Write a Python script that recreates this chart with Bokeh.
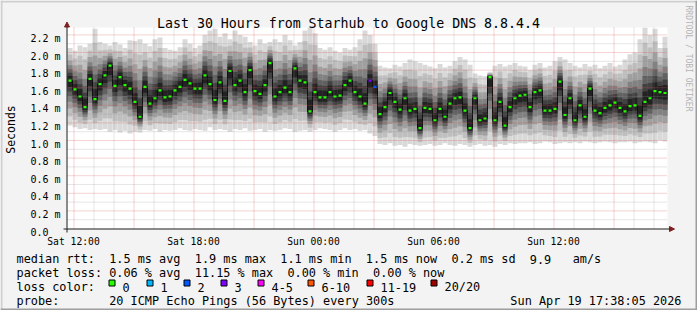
import math
from bokeh.plotting import figure
from bokeh.models import Range1d, Arrow, NormalHead
from bokeh.core.properties import value
from bokeh.embed import file_html
from bokeh.resources import INLINE

# ---------------- data ----------------
start_hour = 11.7          # Sat 11:42, hours since Sat 00:00
step_hours = 0.25          # one consolidated sample per 15 minutes
span_hours = 30

median_ms = [
    1.68, 1.58, 1.50, 1.38, 1.70, 1.47, 1.64, 1.74, 1.85, 1.62,
    1.72, 1.63, 1.59, 1.44, 1.27, 1.61, 1.42, 1.48, 1.57, 1.49,
    1.50, 1.57, 1.61, 1.69, 1.65, 1.59, 1.59, 1.74, 1.64, 1.46,
    1.66, 1.45, 1.79, 1.63, 1.68, 1.55, 1.80, 1.56, 1.53, 1.63,
    1.88, 1.50, 1.55, 1.60, 1.55, 1.82, 1.68, 1.66, 1.33, 1.55,
    1.49, 1.49, 1.55, 1.50, 1.51, 1.63, 1.68, 1.55, 1.50, 1.42,
    1.68, 1.61, 1.30, 1.38, 1.54, 1.44, 1.35, 1.48, 1.34, 1.36,
    1.14, 1.37, 1.36, 1.23, 1.36, 1.27, 1.42, 1.48, 1.49, 1.34,
    1.14, 1.48, 1.23, 1.25, 1.72, 1.23, 1.44, 1.17, 1.38, 1.48,
    1.51, 1.52, 1.38, 1.55, 1.57, 1.34, 1.34, 1.36, 1.67, 1.29,
    1.48, 1.23, 1.40, 1.27, 1.59, 1.34, 1.31, 1.37, 1.40, 1.43,
    1.37, 1.33, 1.39, 1.40, 1.28, 1.44, 1.48, 1.56, 1.55, 1.54,
]

smoke_top_ms = [
    2.05, 2.02, 2.08, 2.06, 2.10, 2.27, 2.12, 2.10, 2.08, 2.12,
    2.09, 2.05, 2.14, 2.13, 2.15, 2.10, 2.07, 2.15, 2.17, 2.05,
    2.03, 2.02, 2.06, 2.15, 2.10, 2.05, 2.08, 2.20, 2.25, 2.27,
    2.18, 2.22, 2.15, 2.25, 2.20, 2.18, 2.12, 2.08, 2.15, 2.10,
    2.12, 2.15, 2.12, 2.20, 2.14, 2.08, 2.12, 2.25, 2.28, 2.22,
    2.05, 2.03, 2.06, 2.02, 2.00, 2.05, 2.03, 2.06, 2.15, 2.25,
    2.20, 2.10, 1.85, 1.83, 1.82, 1.86, 1.84, 1.88, 1.92, 1.90,
    1.88, 1.86, 1.84, 1.82, 1.87, 1.83, 1.85, 1.90, 1.95, 1.92,
    1.86, 1.76, 1.74, 1.73, 1.78, 1.85, 1.87, 1.84, 1.86, 1.88,
    1.85, 1.84, 1.80, 1.86, 1.88, 1.83, 1.85, 1.90, 1.95, 1.92,
    1.88, 1.85, 1.83, 1.87, 1.84, 1.86, 1.82, 1.85, 1.88, 1.84,
    1.86, 1.92, 1.98, 2.00, 2.15, 2.28, 2.20, 2.27, 2.05, 2.18,
]

smoke_bottom_ms = [
    1.17, 1.15, 1.13, 1.14, 1.12, 1.13, 1.12, 1.13, 1.10, 1.12,
    1.09, 1.11, 1.08, 1.10, 1.09, 1.12, 1.11, 1.13, 1.10, 1.12,
    1.11, 1.12, 1.14, 1.12, 1.11, 1.13, 1.12, 1.11, 1.15, 1.12,
    1.13, 1.12, 1.10, 1.13, 1.12, 1.14, 1.11, 1.12, 1.13, 1.10,
    1.12, 1.11, 1.12, 1.14, 1.13, 1.10, 1.11, 1.12, 1.10, 1.12,
    1.14, 1.13, 1.12, 1.10, 1.12, 1.14, 1.12, 1.13, 1.11, 1.12,
    1.08, 1.05, 0.96, 0.95, 0.97, 0.94, 0.95, 0.93, 0.96, 0.95,
    0.94, 0.95, 0.96, 0.94, 0.95, 0.97, 0.95, 0.94, 0.96, 0.95,
    0.93, 0.95, 0.96, 0.94, 0.95, 0.93, 0.96, 0.95, 0.97, 0.96,
    0.97, 0.97, 0.98, 0.96, 0.97, 0.99, 0.98, 0.96, 0.97, 0.98,
    0.97, 0.98, 0.97, 0.99, 0.98, 0.97, 0.98, 0.99, 0.98, 0.97,
    0.98, 0.98, 0.99, 0.97, 0.98, 0.99, 0.98, 0.97, 1.00, 0.99,
]

loss_events = {60: 3, 61: 2}   # sample index -> lost pings (of 20)

x_tick_hours = [12, 18, 24, 30, 36]
x_tick_labels = ["Sat 12:00", "Sat 18:00", "Sun 00:00", "Sun 06:00", "Sun 12:00"]
y_ticks_ms = [0.0, 0.2, 0.4, 0.6, 0.8, 1.0, 1.2, 1.4, 1.6, 1.8, 2.0, 2.2]
y_tick_labels = ["0.0", "0.2 m", "0.4 m", "0.6 m", "0.8 m", "1.0 m", "1.2 m",
                 "1.4 m", "1.6 m", "1.8 m", "2.0 m", "2.2 m"]

loss_labels = ["0", "1", "2", "3", "4-5", "6-10", "11-19", "20/20"]
loss_colors = ["#26ff00", "#00b8ff", "#0059ff", "#7e00ff",
               "#ff00ff", "#ff5500", "#ff0000", "#a10000"]

title_text = "Last 30 Hours from Starhub to Google DNS 8.8.4.4"
rtt_stats = ["1.5 ms avg", "1.9 ms max", "1.1 ms min", "1.5 ms now", "0.2 ms sd"]
am_value, am_unit = "9.9", "am/s"
loss_stats = ["0.06 % avg", "11.15 % max", "0.00 % min", "0.00 % now"]
probe_text = "20 ICMP Echo Pings (56 Bytes) every 300s"
timestamp_text = "Sun Apr 19 17:38:05 2026"
watermark = "RRDTOOL / TOBI OETIKER"

# ---------------- layout constants (pixels) ----------------
W, H = 697, 310
FL, FR, FT, FB = 67, 667, 27, 228        # plot area edges on the canvas
PX_PER_H = (FR - FL) / span_hours        # 20 px per hour
PX_PER_MS = 88.0
FONT = "DejaVu Sans Mono"
BACK = "#f3f3f3"

def hx(X):   # canvas pixel x -> hours
    return start_hour + (X - FL) / PX_PER_H

def vy(Y):   # canvas pixel y -> ms
    return (FB - Y) / PX_PER_MS

def loss_bin(n):
    if n <= 3:
        return n
    if n <= 5:
        return 4
    if n <= 10:
        return 5
    if n <= 19:
        return 6
    return 7

n = len(median_ms)
left = [start_hour + step_hours * i for i in range(n)]
right = [l + step_hours for l in left]
centers = [l + step_hours / 2 for l in left]
end_hour = start_hour + span_hours
top_ms = vy(FT)

p = figure(width=W, height=H, output_backend="svg", toolbar_location=None,
           x_range=Range1d(hx(0), hx(W)), y_range=Range1d(vy(H), vy(0)),
           x_axis_location=None, y_axis_location=None, min_border=0,
           background_fill_color=BACK, border_fill_color=BACK,
           outline_line_color=None)
p.xgrid.visible = False
p.ygrid.visible = False

# canvas (plot area)
p.quad(left=[start_hour], right=[end_hour], bottom=[0], top=[top_ms],
       fill_color="#ffffff", line_color=None)

# ---------------- smoke ----------------
fractions = [1.0, 0.8, 0.62, 0.47, 0.35, 0.24, 0.14]
shades = ["#d9d9d9", "#bfbfbf", "#a0a0a0", "#818181", "#616161", "#414141", "#222222"]
for f, c in zip(fractions, shades):
    tops = [m + f * (t - m) for m, t in zip(median_ms, smoke_top_ms)]
    bots = [m - f * (m - b) for m, b in zip(median_ms, smoke_bottom_ms)]
    p.quad(left=left, right=right, top=tops, bottom=bots,
           fill_color=c, line_color=None)

p.step(x=centers, y=median_ms, mode="center", line_color="#111111", line_width=1)

# ---------------- grid (drawn over the smoke, like rrdtool) ----------------
half_px_h = 0.5 / PX_PER_H
hours = [h for h in range(math.ceil(start_hour), math.floor(end_hour) + 1)]
for major in (False, True):
    xs = [h + half_px_h for h in hours if (h % 3 == 0) == major]
    p.segment(x0=xs, y0=[0] * len(xs), x1=xs, y1=[top_ms] * len(xs),
              line_color="#de4f4f" if major else "#8f8f8f",
              line_alpha=0.5 if major else 0.45, line_width=1, line_dash="1 1")
    vs = [round(0.1 * k, 1) for k in range(1, 23) if (k % 2 == 0) == major]
    p.segment(x0=[start_hour] * len(vs), y0=vs, x1=[end_hour] * len(vs), y1=vs,
              line_color="#de4f4f" if major else "#8f8f8f",
              line_alpha=0.5 if major else 0.45, line_width=1, line_dash="1 1")

# loss-coloured median marks
mark_colors = [loss_colors[loss_bin(loss_events.get(i, 0))] for i in range(n)]
p.rect(x=centers, y=median_ms, width=3 / PX_PER_H, height=2.2 / PX_PER_MS,
       fill_color=mark_colors, line_color=None)

# ---------------- axes with arrows ----------------
head = dict(size=5, fill_color="#801f1f", line_color="#801f1f")
p.add_layout(Arrow(x_start=hx(66.5), y_start=vy(232), x_end=hx(66.5), y_end=vy(21.5),
                   line_color="#1f1f1f", line_width=1, end=NormalHead(**head)))
p.add_layout(Arrow(x_start=hx(63), y_start=vy(228.5), x_end=hx(674), y_end=vy(228.5),
                   line_color="#1f1f1f", line_width=1, end=NormalHead(**head)))

def texts(X, Y, txt, size, align="left", baseline="alphabetic", angle=0.0,
          color="#000000"):
    p.text(x=[hx(v) for v in X], y=[vy(v) for v in Y], text=txt,
           text_font=value(FONT), text_font_size=value(size),
           text_align=align, text_baseline=baseline, angle=angle,
           text_color=color)

# tick labels
texts([FL + (h - start_hour) * PX_PER_H for h in x_tick_hours], [240.5] * 5,
      x_tick_labels, "9.7px", align="center")
texts([30] * len(y_ticks_ms), [FB - v * PX_PER_MS + 3.6 for v in y_ticks_ms],
      y_tick_labels, "10px")

# ---------------- frame shading ----------------
def pbox(x0, x1, y0, y1, color, line=None):
    p.quad(left=[hx(x0)], right=[hx(x1)], top=[vy(y0)], bottom=[vy(y1)],
           fill_color=color, line_color=line, line_width=1)

pbox(0, W, 0, 2, "#cfcfcf")
pbox(0, 2, 0, H, "#cfcfcf")
pbox(0, W, H - 2, H, "#9e9e9e")
pbox(W - 2, W, 0, H, "#9e9e9e")

# ---------------- title, labels, legend ----------------
texts([348], [23], [title_text], "13.25px", align="center")
texts([10], [129], ["Seconds"], "11.5px", align="center", baseline="middle",
      angle=math.pi / 2)
texts([688], [5], [watermark], "8px", baseline="middle", angle=-math.pi / 2,
      color="#b4b4b4")

CW = 7.13
X0 = 16
rows = [258.5, 272.5, 286.5, 300.5]

def col(idx):
    return X0 + idx * CW

LS = "11.85px"
texts([col(i) for i in [0, 13, 25, 37, 49, 61, 72, 78]], [rows[0]] * 8,
      ["median rtt:"] + rtt_stats + [am_value, am_unit], LS)
texts([col(i) for i in [0, 13, 25, 38, 50]], [rows[1]] * 5,
      ["packet loss:"] + loss_stats, LS)
texts([col(0)], [rows[2]], ["loss color:"], LS)
box_left = [108, 146, 183, 220, 257, 307, 366, 430]
for bx, c in zip(box_left, loss_colors):
    pbox(bx + 0.5, bx + 6.5, 279.5, 285.5, c, line="#000000")
texts([bx + 14 for bx in box_left], [rows[2]] * len(box_left), loss_labels, LS)
texts([col(0), col(13)], [rows[3]] * 2, ["probe:", probe_text], LS)
texts([681], [rows[3]], [timestamp_text], LS, align="right")

open("out.html", "w").write(file_html(p, INLINE))
